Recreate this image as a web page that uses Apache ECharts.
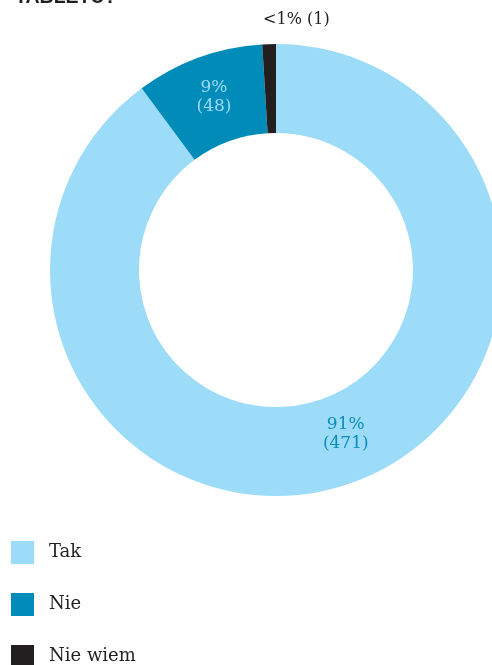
<!DOCTYPE html>
<html>
<head>
<meta charset="utf-8">
<script src="https://cdn.jsdelivr.net/npm/echarts@6/dist/echarts.min.js"></script>
<style>html,body{margin:0;padding:0;background:#fff}#c{width:492px;height:665px}</style>
</head>
<body>
<div id="c"></div>
<script>
var categories = ['Tak', 'Nie', 'Nie wiem'];
var values = [471, 48, 1];
var percentLabels = ['91%', '9%', '<1%'];
var colors = ['#9ddcf8', '#008bb8', '#231f20'];
var labelColors = ['#0a8dba', '#9ddcf8', '#231f20'];
var labelOffsets = [[12, -11], [1, 0], [26, -66]];
var labelFormats = ['stack', 'stack', 'inline'];

var data = categories.map(function (c, i) {
  return {
    name: c,
    value: values[i],
    itemStyle: { color: colors[i] },
    label: {
      color: labelColors[i],
      offset: labelOffsets[i],
      fontSize: i === 2 ? 16 : 17,
      formatter: labelFormats[i] === 'stack'
        ? percentLabels[i] + '\n(' + values[i] + ')'
        : percentLabels[i] + ' (' + values[i] + ')'
    }
  };
});

var chart = echarts.init(document.getElementById('c'));
chart.setOption({
  animation: false,
  title: {
    text: 'TABLETU?',
    left: 15,
    top: -12,
    padding: 0,
    textStyle: { fontFamily: 'Liberation Sans', fontWeight: 'bold', fontSize: 19.5, color: '#231f20' }
  },
  legend: {
    orient: 'vertical',
    left: 11,
    top: 541,
    height: 200,
    padding: 0,
    itemWidth: 23,
    itemHeight: 23,
    itemGap: 29,
    icon: 'rect',
    data: categories,
    textStyle: {
      fontFamily: 'DejaVu Serif',
      fontSize: 18,
      color: '#231f20',
      padding: [0, 0, 0, 10]
    }
  },
  series: [{
    type: 'pie',
    center: [276, 270],
    radius: [137, 226],
    startAngle: 90,
    clockwise: true,
    minAngle: 3.5,
    avoidLabelOverlap: false,
    label: {
      show: true,
      position: 'inside',
      fontFamily: 'DejaVu Serif',
      fontSize: 17,
      lineHeight: 19,
      align: 'center'
    },
    labelLine: { show: false },
    itemStyle: { borderColor: '#ffffff', borderWidth: 0 },
    emphasis: { disabled: true },
    data: data
  }]
});
</script>
</body>
</html>
